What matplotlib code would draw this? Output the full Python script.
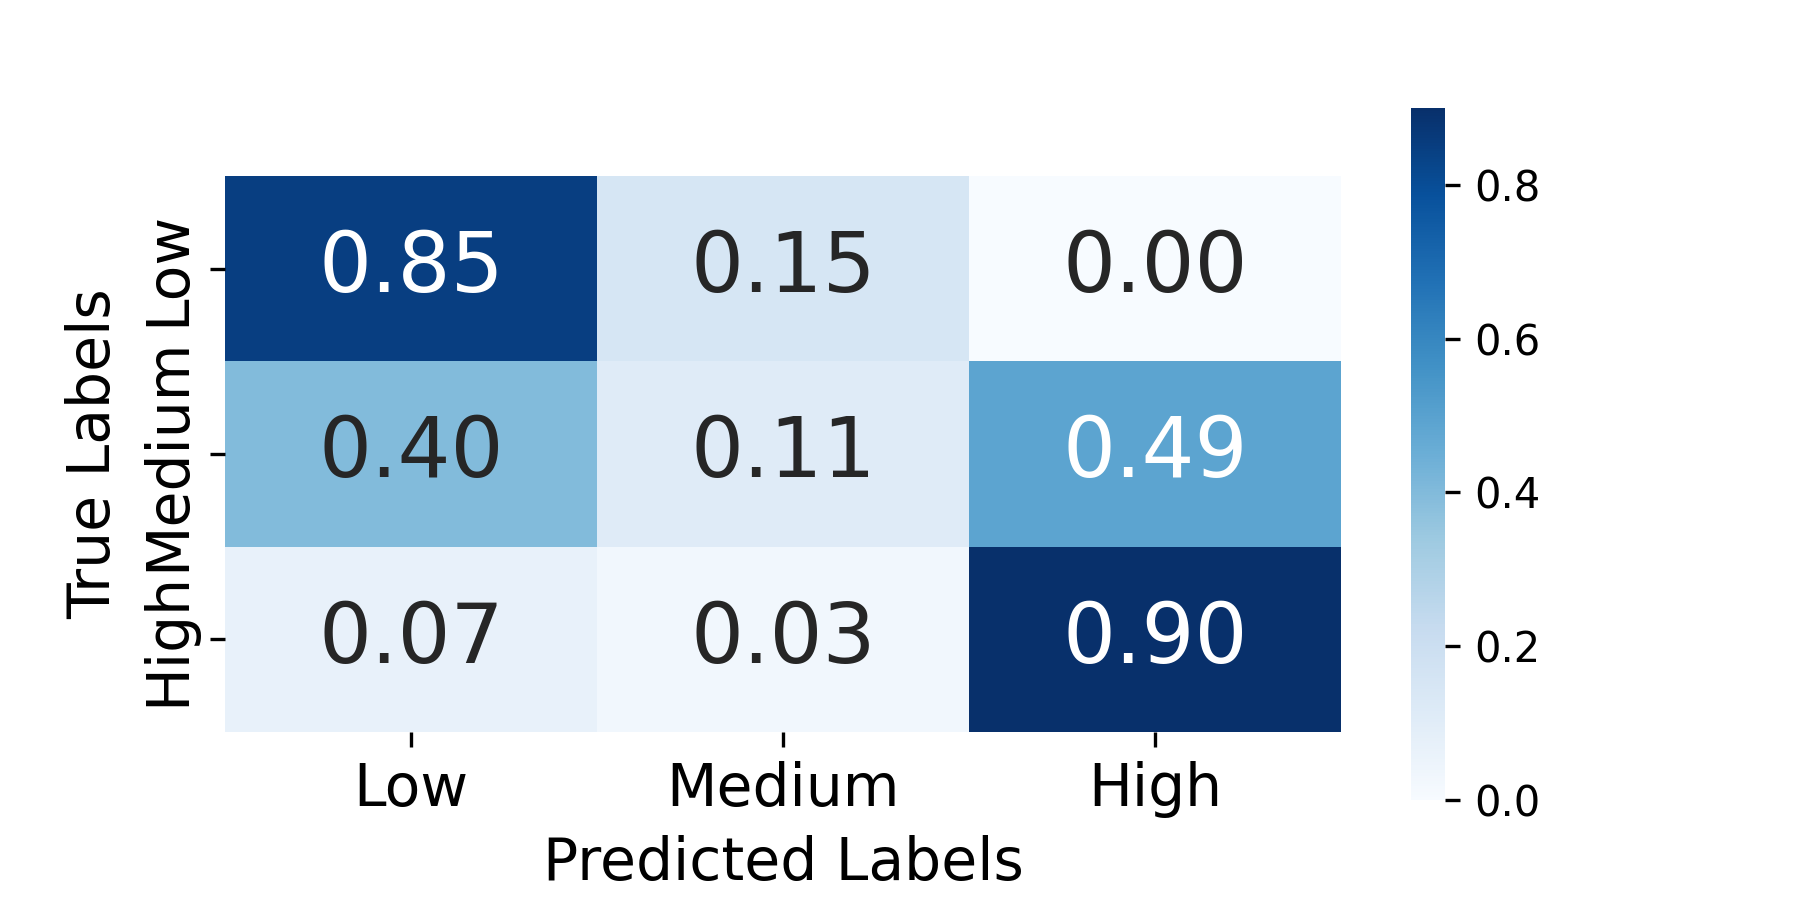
import matplotlib
matplotlib.use("Agg")
import matplotlib.pyplot as plt
import seaborn as sns
import numpy as np

classes = ["Low", "Medium", "High"]
row_low = [0.85, 0.15, 0.00]
row_medium = [0.40, 0.11, 0.49]
row_high = [0.07, 0.03, 0.90]

cm = np.array([row_low, row_medium, row_high])

fig = plt.figure(figsize=(6, 3), dpi=300)
ax = fig.add_axes([0.125, 1 - 732 / 900, 0.62, (732 - 176) / 900])
cax = fig.add_axes([1411 / 1800, 1 - 800 / 900, 34 / 1800, (800 - 108) / 900])

sns.heatmap(cm, annot=True, fmt=".2f", cmap="Blues", ax=ax, cbar_ax=cax,
            xticklabels=classes, yticklabels=classes,
            annot_kws={"fontsize": 20})

ax.set_xlabel("Predicted Labels", fontsize=14)
ax.set_ylabel("True Labels", fontsize=14)
ax.tick_params(axis="both", labelsize=14)
plt.setp(ax.get_yticklabels(), rotation=90, va="center")
plt.setp(ax.get_xticklabels(), rotation=0)
cax.tick_params(labelsize=10)

fig.savefig("out.png", dpi=300)
